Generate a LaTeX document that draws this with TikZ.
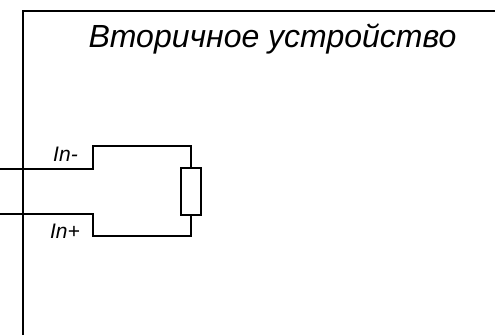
\documentclass[tikz,border=0pt]{standalone}
\usepackage{fontspec}
\setmainfont{Liberation Sans}
\usetikzlibrary{positioning}
\tikzset{wire/.style={draw, line width=1.9pt},
    border/.style={draw, line width=1.9pt},
    resistor/.style={draw, line width=1.9pt, minimum width=20pt, minimum height=47pt, inner sep=0pt, outer sep=0pt},
    title/.style={font=\fontsize{32}{36}\selectfont\itshape, inner sep=0pt},
    pin/.style={font=\fontsize{21}{24}\selectfont\itshape, inner sep=0pt}}

\begin{document}
\begin{tikzpicture}[x=1pt, y=-1pt]
        \useasboundingbox (0,0) rectangle (495,335);
        % outer box of the device
        \coordinate (frameB) at (23,335);
        \coordinate (frameC) at (23,11);
        \coordinate (frameR) at (495,11);
        \draw[border] (frameB) -- (frameC) -- (frameR);
        \node[title, anchor=base] (head) at (272.5,47) {Вторичное устройство};
        % load
        \node[resistor] (load) at (191,191.5) {};
        \coordinate (inA) at (0,169);
        \coordinate (stepA) at (93,169);
        \coordinate (topA) at (93,146);
        \coordinate (inB) at (0,214);
        \coordinate (stepB) at (93,214);
        \coordinate (topB) at (93,236);
        \draw[wire] (inA) -- (stepA) -- (topA) -| (load.north);
        \draw[wire] (inB) -- (stepB) -- (topB) -| (load.south);
        \node[pin, anchor=base] (minus) at (65.5,161) {In-};
        \node[pin, anchor=base] (plus) at (65,238.5) {In+};
    \end{tikzpicture}
\end{document}
